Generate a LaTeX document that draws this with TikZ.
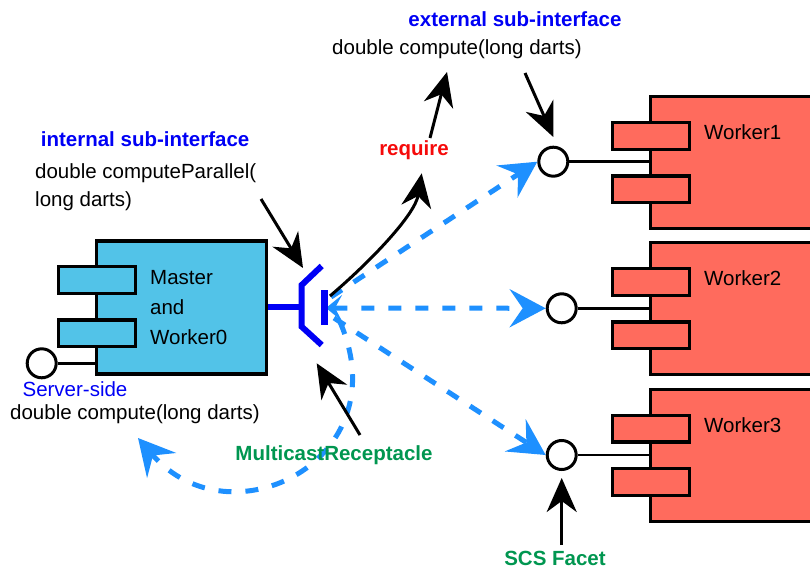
\documentclass[tikz,border=0pt]{standalone}
\usepackage{fontspec}
\setmainfont{Liberation Sans}
\usetikzlibrary{arrows.meta,calc}

\definecolor{masterfill}{RGB}{82,195,232}
\definecolor{workerfill}{RGB}{255,107,93}
\definecolor{callblue}{RGB}{30,144,255}
\definecolor{ifblue}{RGB}{0,0,245}
\definecolor{labgreen}{RGB}{0,150,80}
\definecolor{reqred}{RGB}{245,10,10}

\begin{document}
\begin{tikzpicture}[x=1pt,y=-1pt,
  font=\fontsize{20.5}{24}\selectfont,
  comp/.style={draw, line width=3.2pt, rectangle, inner sep=0pt},
  tab/.style={comp, minimum width=77pt, minimum height=26.6pt},
  port/.style={draw, circle, line width=3pt, fill=white, minimum size=29pt, inner sep=0pt},
  wire/.style={line width=2.6pt},
  blackhead/.tip={Stealth[length=34pt,width=30pt,inset=11pt]},
  bluehead/.tip={Stealth[length=36pt,width=38pt,inset=13pt]},
  pointer/.style={line width=3pt, -blackhead},
  call/.style={callblue, line width=5pt, dash pattern=on 13pt off 14pt, -bluehead},
  iface/.style={ifblue, line width=6pt},
  txt/.style={inner sep=0pt, anchor=base},
  txtl/.style={inner sep=0pt, anchor=base west},
  hdr/.style={font=\fontsize{20.5}{24}\selectfont\bfseries}
]
\useasboundingbox (0,0) rectangle (810,569);
\clip (0,0) rectangle (810,569);

% --- master component ---
\node[comp, fill=masterfill, minimum width=170pt, minimum height=133pt] (master) at (181.7,307.5) {};
\node[tab, fill=masterfill] (mtab1) at (97.2,280) {};
\node[tab, fill=masterfill] (mtab2) at (97.2,333.3) {};
\node[txtl] (mt1) at (150,284) {Master};
\node[txtl] (mt2) at (150,314) {and};
\node[txtl] (mt3) at (150,344) {Worker0};
\node[port] (pm) at (41.7,363.3) {};
\draw[wire] (pm) -- (pm -| master.west);
\node[txt, text=ifblue] (srv) at (75,396) {Server-side};
\node[txtl] (srvsig) at (10,419) {double compute(long darts)};

% --- worker components ---
\foreach \i/\y in {1/162.7, 2/308.7, 3/455.3}{
  \node[comp, fill=workerfill, minimum width=200pt, minimum height=132pt] (w\i) at (750.7,\y) {};
  \node[tab, fill=workerfill] (w\i t1) at (650.8,\y-26.6) {};
  \node[tab, fill=workerfill] (w\i t2) at (650.8,\y+26.6) {};
  \node[txtl] (w\i lbl) at (704,\y-23) {Worker\i};
}
\node[port] (p1) at (553.3,161.7) {};
\node[port] (p2) at (561.7,308.3) {};
\node[port] (p3) at (561.7,455) {};
\draw[wire] (p1) -- (p1 -| w1.west);
\draw[wire] (p2) -- (p2 -| w2.west);
\draw[wire] (p3) -- (p3 -| w3.west);

% --- multicast receptacle anchor points ---
\coordinate (rcp) at (301.7,307);
\coordinate (rtop) at (321.7,266);
\coordinate (rbot) at (321.7,345);

% --- dashed calls from the receptacle ---
\coordinate (c1) at (331,297);
\coordinate (c2) at (326,308);
\coordinate (c3) at (334,318);
\coordinate (c4) at (340,322);
\coordinate (srvtip) at (138,438);
\draw[call] (c1) -- (p1.west);
\draw[call, {Stealth[length=16pt,width=26pt,inset=7pt]}-bluehead] (c2) -- (p2.west);
\draw[call] (c3) -- (p3.west);
\draw[call] (c4) .. controls (400,460) and (230,545) .. (srvtip);

% --- receptacle symbol ---
\draw[iface] (master.east |- rcp) -- (rcp);
\draw[iface, line join=miter] (rtop) -- (301.7,285) -- (301.7,326.7) -- (rbot);
\draw[ifblue, line width=7pt] (324,290) -- (324,325);

% --- texts ---
\node[txt, hdr, text=ifblue] (exthdr) at (515,27) {external sub-interface};
\node[txt] (extsig) at (457,55) {double compute(long darts)};
\node[txtl, hdr, text=ifblue] (inthdr) at (40.7,147) {internal sub-interface};
\node[txtl] (intsig1) at (35,178.7) {double computeParallel(};
\node[txtl] (intsig2) at (35,207) {long darts)};
\node[txt, hdr, text=reqred] (req) at (414,156) {require};
\node[txt, hdr, text=labgreen] (mcr) at (334,460) {MulticastReceptacle};
\node[txt, hdr, text=labgreen] (scs) at (555,565) {SCS Facet};

% --- black pointers ---
\coordinate (ia0) at (261,199);
\coordinate (ia1) at (303,268);
\draw[pointer] (ia0) -- (ia1);
\coordinate (rq0) at (330,296);
\coordinate (rq1) at (421.7,173.3);
\draw[pointer] (rq0) .. controls (370,262) and (415,215) .. (rq1);
\coordinate (ra0) at (430,138);
\coordinate (ra1) at (447,72);
\draw[pointer] (ra0) -- (ra1);
\coordinate (ea0) at (525,73);
\coordinate (ea1) at (553.3,137);
\draw[pointer] (ea0) -- (ea1);
\coordinate (ma0) at (360,435);
\coordinate (ma1) at (316.7,363.3);
\draw[pointer] (ma0) -- (ma1);
\coordinate (sa0) at (561.7,545);
\draw[pointer] (sa0) -- ($(p3.south)+(0,7)$);
\end{tikzpicture}
\end{document}
